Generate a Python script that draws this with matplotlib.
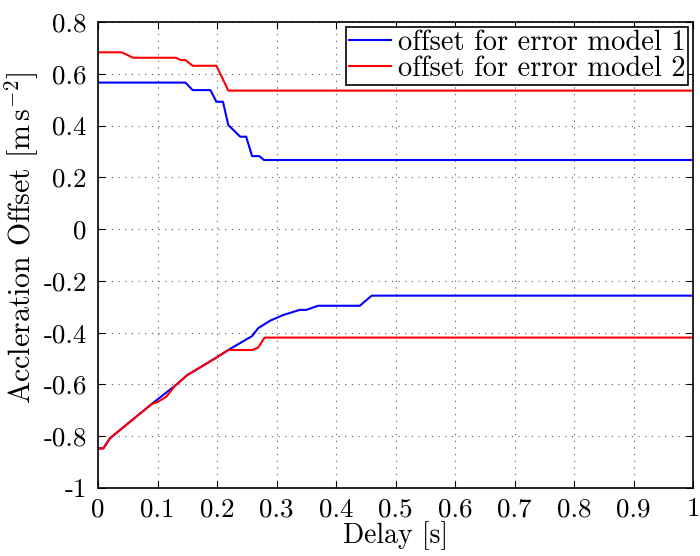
import matplotlib
matplotlib.use("Agg")
import matplotlib.pyplot as plt

plt.rcParams['font.family'] = ['cmr10', 'DejaVu Serif']
plt.rcParams['mathtext.fontset'] = 'cm'
plt.rcParams['axes.unicode_minus'] = False

# upper bound curves
x_up1 = [0.0, 0.147, 0.159, 0.189, 0.199, 0.21, 0.219, 0.239, 0.249, 0.259, 0.271, 0.279, 1.0]
y_up1 = [0.566, 0.566, 0.537, 0.537, 0.492, 0.492, 0.402, 0.357, 0.357, 0.282, 0.282, 0.267, 0.267]
x_up2 = [0.0, 0.04, 0.059, 0.131, 0.139, 0.147, 0.159, 0.199, 0.219, 1.0]
y_up2 = [0.683, 0.683, 0.662, 0.662, 0.653, 0.653, 0.631, 0.631, 0.535, 0.535]

# lower bound curves
x_lo1 = [0.0, 0.009, 0.02, 0.09, 0.131, 0.15, 0.197, 0.219, 0.259, 0.269, 0.289, 0.311,
         0.339, 0.35, 0.37, 0.44, 0.46, 1.0]
y_lo1 = [-0.847, -0.847, -0.808, -0.676, -0.602, -0.564, -0.499, -0.467, -0.413, -0.383,
         -0.354, -0.332, -0.312, -0.312, -0.296, -0.296, -0.257, -0.257]
x_lo2 = [0.0, 0.009, 0.02, 0.09, 0.101, 0.115, 0.129, 0.15, 0.197, 0.219, 0.259, 0.269, 0.28, 1.0]
y_lo2 = [-0.847, -0.847, -0.808, -0.676, -0.667, -0.647, -0.606, -0.564, -0.499, -0.467,
         -0.467, -0.458, -0.419, -0.419]

xticks = [0, 0.1, 0.2, 0.3, 0.4, 0.5, 0.6, 0.7, 0.8, 0.9, 1.0]
xticklabels = ['0', '0.1', '0.2', '0.3', '0.4', '0.5', '0.6', '0.7', '0.8', '0.9', '1']
yticks = [-1, -0.8, -0.6, -0.4, -0.2, 0, 0.2, 0.4, 0.6, 0.8]
yticklabels = ['-1', '-0.8', '-0.6', '-0.4', '-0.2', '0', '0.2', '0.4', '0.6', '0.8']

fig = plt.figure(figsize=(7, 5.56), dpi=100)
ax = fig.add_axes([0.14, 0.1223, 0.85, 0.8381])

l1, = ax.plot(x_up1, y_up1, color='#0000ff', lw=1.5, label='offset for error model 1')
ax.plot(x_lo1, y_lo1, color='#0000ff', lw=1.5)
l2, = ax.plot(x_up2, y_up2, color='#ff0000', lw=1.5, label='offset for error model 2')
ax.plot(x_lo2, y_lo2, color='#ff0000', lw=1.5)

ax.set_xlim(0, 1)
ax.set_ylim(-1, 0.8)
ax.set_xticks(xticks)
ax.set_xticklabels(xticklabels)
ax.set_yticks(yticks)
ax.set_yticklabels(yticklabels)
ax.tick_params(direction='in', labelsize=19.5, length=5, width=0.8, top=True, right=True)
ax.tick_params(axis='y', pad=8)
ax.tick_params(axis='x', pad=7)
ax.grid(True, linestyle=(0, (1, 5)), color='#555555', linewidth=0.8)
for s in ax.spines.values():
    s.set_linewidth(1.2)

ax.set_xlabel('Delay [s]', fontsize=20, labelpad=0)
ax.set_ylabel(r'Accleration Offset $[\mathrm{m\,s^{-2}}]$', fontsize=21.5)
ax.yaxis.set_label_coords(-0.096, 0.536)

leg = ax.legend(handles=[l1, l2], loc='upper right', fontsize=20.5, frameon=True, fancybox=False,
                edgecolor='black', framealpha=1, borderpad=0.1, labelspacing=0.0,
                handlelength=1.45, handletextpad=0.25, borderaxespad=0.17)
leg.get_frame().set_linewidth(1.2)

fig.savefig('out.png', dpi=100)
